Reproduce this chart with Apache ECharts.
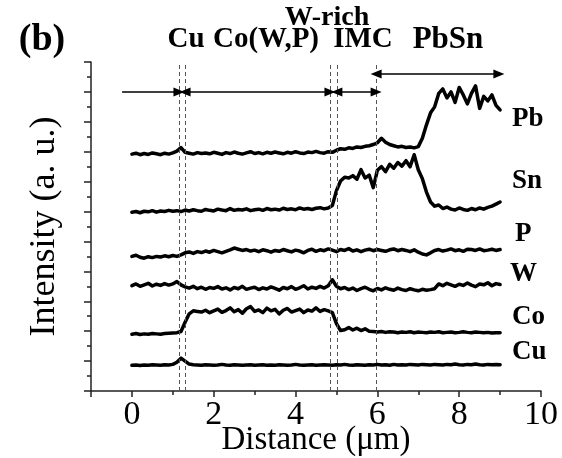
<!DOCTYPE html>
<html>
<head>
<meta charset="utf-8">
<script src="https://cdn.jsdelivr.net/npm/echarts@6/dist/echarts.min.js"></script>
<style>html,body{margin:0;padding:0;background:#fff}#c{width:562px;height:458px}</style>
</head>
<body>
<div id="c"></div>
<script>
// Distance (um)
const distance = [0,0.1,0.2,0.3,0.4,0.5,0.6,0.7,0.8,0.9,1.0,1.1,1.2,1.3,1.4,1.5,1.6,1.7,1.8,1.9,2.0,2.1,2.2,2.3,2.4,2.5,2.6,2.7,2.8,2.9,3.0,3.1,3.2,3.3,3.4,3.5,3.6,3.7,3.8,3.9,4.0,4.1,4.2,4.3,4.4,4.5,4.6,4.7,4.8,4.9,5.0,5.1,5.2,5.3,5.4,5.5,5.6,5.7,5.8,5.9,6.0,6.1,6.2,6.3,6.4,6.5,6.6,6.7,6.8,6.9,7.0,7.1,7.2,7.3,7.4,7.5,7.6,7.7,7.8,7.9,8.0,8.1,8.2,8.3,8.4,8.5,8.6,8.7,8.8,8.9,9.0];

const cu = [0.86,0.87,0.85,0.87,0.86,0.88,0.87,0.86,0.88,0.87,0.89,
  0.96,1.10,1.00,0.90,0.88,
  0.87,0.86,0.88,0.87,0.86,0.87,0.89,0.87,0.86,0.88,
  0.87,0.86,0.87,0.88,0.86,0.87,0.88,0.86,0.87,0.86,
  0.88,0.87,0.86,0.87,0.89,0.87,0.86,0.87,0.88,0.86,
  0.87,0.88,0.87,0.86,0.88,0.87,0.89,0.87,0.86,0.88,
  0.87,0.86,0.88,0.87,0.89,0.87,0.88,0.86,0.89,0.87,
  0.88,0.87,0.89,0.88,0.87,0.89,0.88,0.87,0.89,0.88,
  0.87,0.89,0.88,0.90,0.88,0.87,0.89,0.88,0.90,0.88,
  0.87,0.89,0.88,0.89,0.88];

const co = [1.90,1.92,1.89,1.91,1.90,1.92,1.91,1.90,1.92,1.93,1.94,1.95,1.99,
  2.30,2.58,2.68,2.66,
  2.64,2.70,2.62,2.68,2.74,2.63,2.69,2.78,2.65,2.72,2.60,2.75,2.82,2.66,2.71,2.62,
  2.77,2.68,2.73,2.58,2.70,2.76,2.64,2.69,2.74,2.62,2.71,2.67,2.78,2.66,2.72,2.68,
  2.62,2.25,2.02,
  2.05,2.12,2.04,2.10,2.02,2.08,2.00,1.99,1.97,1.99,1.96,1.98,1.97,1.95,1.97,1.96,
  1.98,1.95,1.97,1.96,1.95,1.97,1.96,1.98,1.95,1.96,1.97,1.95,1.96,1.98,1.96,1.95,
  1.97,1.96,1.95,1.96,1.94,1.95,1.95];

const w = [3.52,3.58,3.50,3.55,3.60,3.51,3.57,3.53,3.59,3.54,3.58,
  3.66,3.55,
  3.48,3.44,3.50,3.42,3.47,3.40,3.46,3.43,3.49,3.41,3.45,3.38,3.46,3.42,3.50,3.40,
  3.44,3.47,3.39,3.45,3.41,3.48,3.43,3.37,3.46,3.42,3.49,3.40,3.45,3.52,3.41,3.47,
  3.43,3.50,3.44,
  3.52,3.72,3.50,
  3.42,3.46,3.39,3.44,3.36,3.42,3.47,3.40,3.35,3.43,3.38,3.45,3.40,3.37,3.44,3.39,
  3.36,3.42,3.38,3.35,3.40,3.37,3.39,3.42,
  3.58,3.52,3.60,3.55,3.50,3.57,3.53,3.61,3.54,3.49,3.58,3.55,3.62,3.52,3.59,3.56];

const p = [4.50,4.54,4.47,4.44,4.49,4.46,4.50,4.48,4.52,4.49,4.53,4.50,4.55,
  4.62,4.65,4.60,4.66,4.63,4.68,4.64,4.70,4.66,4.62,
  4.67,4.72,4.78,4.74,4.70,4.73,4.68,4.71,4.66,4.72,
  4.69,4.64,4.70,4.67,4.73,4.69,4.65,4.71,4.68,4.62,
  4.70,4.74,4.67,4.72,4.69,4.75,4.71,4.66,4.73,4.70,
  4.76,4.68,4.72,4.66,4.71,4.74,4.69,4.73,4.70,4.67,
  4.72,4.75,4.69,4.73,4.70,4.66,4.72,4.64,4.58,4.55,
  4.62,4.70,4.73,4.68,4.71,4.75,4.69,4.72,4.67,4.74,
  4.73,4.70,4.75,4.69,4.71,4.74,4.70,4.73];

const sn = [5.98,6.00,5.96,6.01,5.99,6.03,5.98,6.02,6.00,6.04,
  6.01,6.03,6.00,6.05,6.02,6.06,6.03,6.01,6.07,6.04,
  6.02,6.08,6.05,6.03,6.10,6.04,6.07,6.05,6.09,6.03,
  6.06,6.08,6.04,6.10,6.06,6.08,6.05,6.11,6.07,6.09,
  6.06,6.12,6.08,6.10,6.07,6.11,6.13,6.09,6.12,
  6.20,6.70,7.02,7.15,7.12,7.20,7.08,7.40,7.12,7.22,6.80,
  7.38,7.50,7.33,7.58,7.45,7.64,7.52,7.70,7.50,7.90,
  7.40,7.10,6.65,6.32,6.18,6.22,6.10,6.15,6.08,6.05,
  6.12,6.07,6.04,6.10,6.06,6.12,6.08,6.14,6.18,6.25,6.32];

const pb = [7.92,7.95,7.90,7.94,7.91,7.96,7.93,7.90,7.95,7.92,7.96,
  8.02,8.14,7.98,
  7.95,7.92,7.97,7.94,7.96,7.93,7.98,7.95,7.91,7.97,7.94,7.99,7.95,7.92,7.96,8.00,
  7.94,7.97,7.93,7.98,7.95,7.99,7.96,7.93,7.98,7.95,8.00,7.96,7.94,7.99,7.97,8.01,
  7.97,7.95,8.00,7.98,
  8.05,8.10,8.08,8.13,8.11,8.16,8.14,8.18,8.20,8.24,8.30,8.45,8.32,8.24,8.20,8.16,
  8.18,8.14,8.16,8.13,8.17,
  8.45,8.90,9.30,9.50,9.95,10.10,9.80,10.00,9.65,10.15,9.90,9.60,9.95,10.20,9.45,
  9.85,9.70,9.90,9.55,9.40];

const seriesNames = ['Cu','Co','W','P','Sn','Pb'];
const seriesValues = [cu, co, w, p, sn, pb];

// region boundaries (um)
const boundaries = [1.15, 1.30, 4.84, 5.01, 5.97];
const xTickLabels = [0, 2, 4, 6, 8, 10];
const xMinorTicks = [1, 3, 5, 7, 9];

const FONT = '"Liberation Serif", "Times New Roman", serif';
const chart = echarts.init(document.getElementById('c'), null, {renderer: 'canvas'});

const lineSeries = seriesNames.map((name, i) => ({
  name: name,
  type: 'line',
  xAxisIndex: 0,
  data: distance.map((d, k) => [d, seriesValues[i][k]]),
  showSymbol: false,
  symbol: 'none',
  lineStyle: {color: '#000', width: 3.5, join: 'round', cap: 'round'},
  silent: true,
  z: 3
}));

const arrowLine = {color: '#000', width: 1.5, type: 'solid'};
const head = {symbol: 'triangle', symbolSize: [9, 11]};
lineSeries[0].markLine = {
  silent: true,
  animation: false,
  label: {show: false},
  symbol: ['none', 'none'],
  data: [
    ...boundaries.map(b => ({xAxis: b, lineStyle: {color: '#555', width: 1, type: [4, 3]}, symbol: 'none'})),
    [{coord: [-0.24, 10.0], symbol: 'none', lineStyle: arrowLine},
     Object.assign({coord: [boundaries[0], 10.0]}, head)],
    [Object.assign({coord: [boundaries[1], 10.0], lineStyle: arrowLine}, head),
     Object.assign({coord: [boundaries[2], 10.0]}, head)],
    [Object.assign({coord: [boundaries[3], 10.0], lineStyle: arrowLine}, head),
     Object.assign({coord: [boundaries[4], 10.0]}, head)],
    [Object.assign({coord: [boundaries[4], 10.6], lineStyle: arrowLine}, head),
     Object.assign({coord: [8.97, 10.6]}, head)]
  ]
};

function txt(text, x, y, size, bold, align) {
  return {
    type: 'text', x: x, y: y, silent: true,
    style: {
      text: text,
      font: (bold ? 'bold ' : '') + size + 'px ' + FONT,
      fill: '#000',
      align: align || 'center', verticalAlign: 'middle',
      textAlign: align || 'center', textVerticalAlign: 'middle'
    }
  };
}

const option = {
  animation: false,
  backgroundColor: '#fff',
  grid: {left: 91, right: 21, top: 62, bottom: 67, containLabel: false, outerBoundsMode: 'none'},
  xAxis: [{
    type: 'value', min: -1, max: 10, interval: 1,
    name: 'Distance (\u03bcm)', nameLocation: 'middle', nameGap: 33, nameMoveOverlap: false,
    nameTextStyle: {fontFamily: FONT, fontSize: 33, color: '#000'},
    axisLine: {show: true, onZero: false, lineStyle: {color: '#222', width: 1.5}},
    axisTick: {show: true, inside: false, length: 6, lineStyle: {color: '#222', width: 1.5}, customValues: [-1].concat(xTickLabels)},
    axisLabel: {show: true, customValues: xTickLabels, margin: 7, fontFamily: FONT, fontSize: 34, color: '#000'},
    splitLine: {show: false}
  }, {
    type: 'value', min: -1, max: 10, interval: 1, position: 'bottom',
    axisLine: {show: false},
    axisTick: {show: true, inside: false, length: 4, lineStyle: {color: '#222', width: 1.5}, customValues: xMinorTicks},
    axisLabel: {show: false},
    splitLine: {show: false}
  }],
  yAxis: {
    type: 'value', min: 0, max: 11, interval: 1,
    name: 'Intensity (a. u.)', nameLocation: 'middle', nameGap: 28, nameRotate: 90, nameMoveOverlap: false,
    nameTextStyle: {fontFamily: FONT, fontSize: 36, color: '#000'},
    axisLine: {show: true, onZero: false, lineStyle: {color: '#222', width: 1.5}},
    axisTick: {show: true, inside: false, length: 7, lineStyle: {color: '#222', width: 1.5}},
    minorTick: {show: true, splitNumber: 2, length: 4, lineStyle: {color: '#222', width: 1.5}},
    axisLabel: {show: false},
    splitLine: {show: false},
    minorSplitLine: {show: false}
  },
  graphic: [
    txt('(b)', 42, 40, 38, true),
    txt('W-rich', 327, 18, 28, true),
    txt('Cu', 186, 40, 29, true),
    txt('Co(W,P)', 266, 40, 29, true),
    txt('IMC', 363, 40, 29, true),
    txt('PbSn', 448, 40, 31, true),
    txt('Pb', 512, 119, 27, true, 'left'),
    txt('Sn', 512, 181, 27, true, 'left'),
    txt('P', 515, 234, 27, true, 'left'),
    txt('W', 510, 274, 27, true, 'left'),
    txt('Co', 512, 317, 27, true, 'left'),
    txt('Cu', 512, 352, 27, true, 'left')
  ],
  series: lineSeries
};
chart.setOption(option);
</script>
</body>
</html>
